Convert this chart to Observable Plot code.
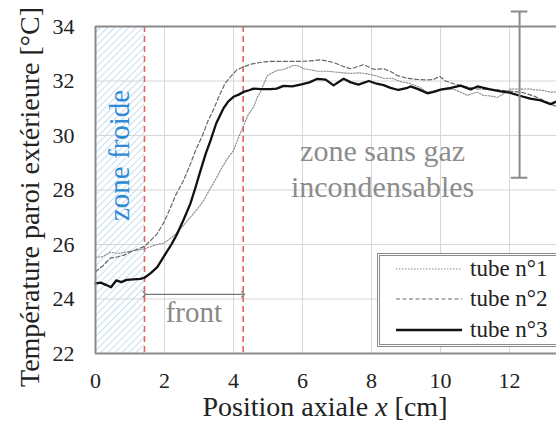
<!DOCTYPE html>
<html><head><meta charset="utf-8">
<script src="https://cdn.jsdelivr.net/npm/d3@7"></script>
<script src="https://cdn.jsdelivr.net/npm/@observablehq/plot@0.6"></script>
<style>
body{margin:0;background:#fff;}
#wrap{position:relative;width:556px;height:421px;overflow:hidden;font-family:"Liberation Serif","Times New Roman",serif;}
#legend{position:absolute;left:377px;top:253px;width:190px;height:88px;border:3px double #8a8a8a;background:#fff;}
.row{position:absolute;left:16px;display:flex;align-items:center;height:30px;font-size:23px;color:#222;white-space:nowrap;}
.row svg{margin-right:8px;}
</style></head><body><div id="wrap"></div>
<script>
// ---- data ----
const tube1X = [0,0.2,0.43,0.6,0.81,1.0,1.2,1.42,1.6,1.79,1.98,2.2,2.37,2.55,2.75,2.95,3.13,3.3,3.42,3.55,3.67,3.85,4.0,4.2,4.29,4.4,4.49,4.58,4.69,4.78,4.88,4.98,5.12,5.27,5.45,5.6,5.74,5.85,6.03,6.2,6.43,6.7,7.01,7.39,7.65,7.88,8.1,8.35,8.6,8.75,8.9,9.1,9.39,9.62,9.85,10.09,10.38,10.6,10.78,10.95,11.07,11.24,11.45,11.65,11.85,12.03,12.3,12.58,12.7,12.95,13.19,13.36];
const tube1Y = [25.53,25.55,25.72,25.68,25.7,25.75,25.8,25.84,25.92,26.0,26.05,26.25,26.45,26.7,27.0,27.3,27.6,28.0,28.25,28.55,28.84,29.2,29.45,30.1,30.35,30.7,30.88,31.04,31.4,31.6,31.9,32.2,32.3,32.39,32.42,32.5,32.57,32.57,32.45,32.42,32.36,32.36,32.32,32.28,32.3,32.26,32.2,32.1,32.1,32.02,31.96,31.92,31.77,31.59,31.65,31.68,31.7,31.58,31.47,31.55,31.59,31.47,31.45,31.4,31.55,31.71,31.7,31.71,31.68,31.66,31.59,31.6];
const tube2X = [0,0.2,0.43,0.65,0.81,1.0,1.2,1.42,1.6,1.79,2.0,2.17,2.32,2.55,2.75,2.9,3.1,3.25,3.42,3.6,3.75,3.91,4.1,4.3,4.5,4.87,5.07,5.5,5.94,6.25,6.52,6.9,7.15,7.4,7.77,8.06,8.35,8.55,8.75,9.04,9.3,9.6,9.79,9.97,10.15,10.38,10.7,11.04,11.4,11.83,12.1,12.4,12.7,12.99,13.2,13.36];
const tube2Y = [25.0,25.2,25.5,25.55,25.6,25.72,25.82,25.93,26.15,26.4,26.85,27.35,27.8,28.35,28.95,29.45,30.0,30.5,30.95,31.5,31.9,32.15,32.42,32.52,32.62,32.7,32.72,32.72,32.72,32.74,32.78,32.68,32.55,32.45,32.6,32.43,32.45,32.35,32.2,32.1,32.06,32.04,32.05,32.17,32.0,31.9,31.8,31.71,31.7,31.65,31.62,31.57,31.45,31.28,31.15,31.06];
const tube3X = [0,0.15,0.3,0.45,0.6,0.75,0.9,1.1,1.3,1.42,1.6,1.79,2.0,2.2,2.37,2.55,2.75,2.9,3.04,3.2,3.33,3.5,3.71,3.85,4.0,4.15,4.29,4.45,4.58,4.8,5.07,5.25,5.45,5.7,5.94,6.2,6.43,6.67,6.9,7.19,7.4,7.62,7.92,8.15,8.35,8.55,8.78,9.04,9.13,9.35,9.62,9.8,10.0,10.3,10.58,10.87,11.07,11.4,11.74,12.0,12.32,12.6,12.9,13.19,13.36];
const tube3Y = [24.57,24.6,24.52,24.43,24.68,24.62,24.7,24.72,24.74,24.78,24.95,25.17,25.6,26.0,26.4,26.9,27.5,28.1,28.7,29.35,29.8,30.45,31.0,31.25,31.42,31.5,31.6,31.66,31.72,31.7,31.7,31.72,31.82,31.8,31.87,31.95,32.08,32.05,31.84,32.08,31.95,31.87,32.0,31.9,31.85,31.75,31.67,31.75,31.8,31.7,31.55,31.6,31.68,31.75,31.83,31.69,31.8,31.7,31.62,31.57,31.45,31.35,31.29,31.15,31.25];
const seriesNames = ["tube n°1", "tube n°2", "tube n°3"];
const xTicks = [0, 2, 4, 6, 8, 10, 12];
const yTicks = [22, 24, 26, 28, 30, 32, 34];
const frontLimits = [1.42, 4.28];      // red dashed lines (x, cm)
const errorBar = {x: 12.29, low: 28.45, high: 34.55};

// ---- build ----
const toRows = (xs, ys, name) => xs.map((x, i) => ({x, y: ys[i], name}));
const t1 = toRows(tube1X, tube1Y, seriesNames[0]);
const t2 = toRows(tube2X, tube2Y, seriesNames[1]);
const t3 = toRows(tube3X, tube3Y, seriesNames[2]);
const serif = '"Liberation Serif","Times New Roman",serif';
const gray = "#8a8a8a";

const plot = Plot.plot({
  width: 556, height: 421,
  marginLeft: 95, marginRight: 0, marginTop: 26, marginBottom: 68,
  style: {fontFamily: serif, fontSize: "22px", color: "#222", background: "#fff"},
  x: {domain: [0, 13.36], label: null},
  y: {domain: [22, 34], label: null},
  marks: [
    Plot.rect([frontLimits[0]], {x1: 0, x2: d => d, fill: "url(#hatch)"}),
    Plot.gridX(xTicks.slice(1), {stroke: "#d6d6d6", strokeOpacity: 1, strokeWidth: 1}),
    Plot.gridY(yTicks.slice(1, -1), {stroke: "#d6d6d6", strokeOpacity: 1, strokeWidth: 1}),
    Plot.ruleX(frontLimits, {stroke: "#e06464", strokeWidth: 1.6, strokeDasharray: "6,4"}),
    Plot.link([frontLimits], {x1: d => d[0], x2: d => d[1], y1: 24.17, y2: 24.17,
      stroke: "#777", strokeWidth: 1.3, markerStart: "arrow", markerEnd: "arrow"}),
    Plot.text(["front"], {x: (frontLimits[0] + frontLimits[1]) / 2, y: 23.15, lineAnchor: "bottom",
      fontSize: 29, fill: "#8a8a8a", fontFamily: serif}),
    Plot.text(["zone froide"], {x: 0.96, y: 29.27, rotate: -90, lineAnchor: "bottom",
      fontSize: 29, fill: "#2f8ad6", fontFamily: serif}),
    Plot.text(["zone sans gaz"], {x: 8.32, y: 29.08, lineAnchor: "bottom", fontSize: 30, fill: "#8c8c8c", fontFamily: serif}),
    Plot.text(["incondensables"], {x: 8.32, y: 27.74, lineAnchor: "bottom", fontSize: 30, fill: "#8c8c8c", fontFamily: serif}),
    Plot.line(t1, {x: "x", y: "y", stroke: "#8a8a8a", strokeWidth: 1.1, strokeDasharray: "1.5,1.5"}),
    Plot.line(t2, {x: "x", y: "y", stroke: "#666", strokeWidth: 1.2, strokeDasharray: "4,2.5"}),
    Plot.line(t3, {x: "x", y: "y", stroke: "#111", strokeWidth: 2.3}),
    Plot.ruleX([errorBar], {x: "x", y1: "low", y2: "high", stroke: gray, strokeWidth: 2}),
    Plot.ruleY([errorBar.low, errorBar.high], {x1: errorBar.x - 0.24, x2: errorBar.x + 0.24, stroke: gray, strokeWidth: 2}),
    Plot.ruleX([0], {stroke: gray, strokeWidth: 2}),
    Plot.ruleY([22, 34], {stroke: gray, strokeWidth: 2}),
    Plot.axisX(xTicks, {tickSize: 0, tickPadding: 19, label: null, fontSize: 22}),
    Plot.axisY(yTicks, {tickSize: 0, tickPadding: 21, label: null, fontSize: 22}),
    Plot.text(["Température paroi extérieure [°C]"], {frameAnchor: "left", rotate: -90, dx: -57, dy: 7,
      textAnchor: "middle", lineAnchor: "bottom", fontSize: 28, fill: "#222", fontFamily: serif})
  ]
});

// hatch pattern
const svg = d3.select(plot);
const defs = svg.insert("defs", ":first-child");
const pat = defs.append("pattern").attr("id", "hatch").attr("patternUnits", "userSpaceOnUse")
  .attr("width", 5).attr("height", 5).attr("patternTransform", "rotate(45)");
pat.append("rect").attr("width", 5).attr("height", 5).attr("fill", "#fff");
pat.append("line").attr("x1", 0).attr("y1", 0).attr("x2", 0).attr("y2", 5)
  .attr("stroke", "#b7d7ee").attr("stroke-width", 1.6);

// x axis label with italic x
const xl = svg.append("text").attr("x", 325).attr("y", 416).attr("text-anchor", "middle")
  .attr("font-size", 28).attr("font-family", serif).attr("fill", "#222");
xl.append("tspan").text("Position axiale ");
xl.append("tspan").attr("font-style", "italic").text("x");
xl.append("tspan").text(" [cm]");

const wrap = document.getElementById("wrap");
wrap.appendChild(plot);

// legend
const legend = document.createElement("div");
legend.id = "legend";
const styles = [
  {stroke: "#8a8a8a", w: 1.1, dash: "1.5,1.5"},
  {stroke: "#666", w: 1.2, dash: "4,2.5"},
  {stroke: "#111", w: 2.5, dash: null}
];
seriesNames.forEach((name, i) => {
  const row = document.createElement("div");
  row.className = "row";
  row.style.top = [-2, 28, 59][i] + "px";
  const s = styles[i];
  row.innerHTML = `<svg width="66" height="10"><line x1="0" x2="66" y1="5" y2="5" stroke="${s.stroke}" stroke-width="${s.w}" ${s.dash ? `stroke-dasharray="${s.dash}"` : ""}/></svg><span>${name}</span>`;
  legend.appendChild(row);
});
wrap.appendChild(legend);
</script>
</body></html>
